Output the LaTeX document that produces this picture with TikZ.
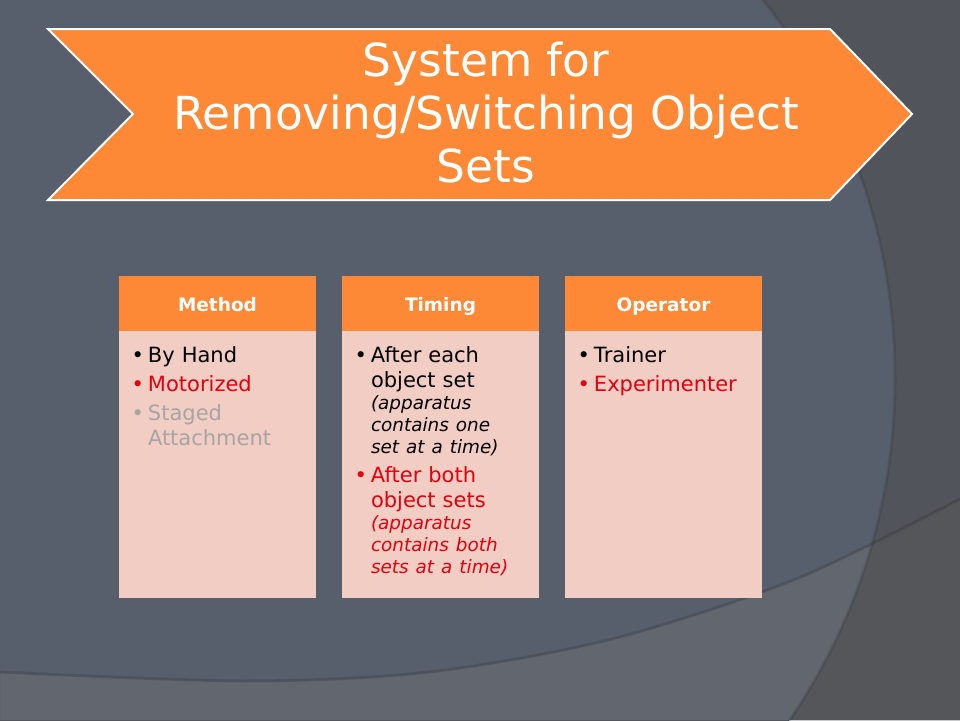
\documentclass[tikz,border=0pt]{standalone}
\usepackage{fontspec}
\setmainfont{DejaVu Sans}
\usetikzlibrary{matrix}

\definecolor{slate}{RGB}{88,95,108}
\definecolor{slatedark}{RGB}{81,84,91}
\definecolor{slatelight}{RGB}{98,102,110}
\definecolor{slatecorner}{RGB}{84,86,90}
\definecolor{banner}{RGB}{253,137,54}
\definecolor{cardbody}{RGB}{241,205,196}
\definecolor{hilite}{RGB}{228,0,12}
\definecolor{faded}{RGB}{168,164,164}

% one bullet line, coloured
\newcommand\bul[2]{\leftskip=15pt\relax\noindent{\color{#1}\llap{\textbullet\hspace{4pt}}#2\par}}
\newcommand\nextbul{\vspace{4pt}}
\newcommand\aside[1]{\par{\itshape\fontsize{18.4}{22}\selectfont #1\par}}

\tikzset{
  card matrix/.style={
    matrix of nodes,
    column sep=26pt, row sep=0pt,
    nodes={
      rectangle,
      minimum width=#1,
      anchor=center,
    },
    row 1/.style={nodes={fill=banner, text=white, inner sep=0pt,
      minimum height=55pt, text height=17pt, text depth=2pt,
      font=\bfseries\fontsize{18.5}{22}\selectfont}},
    row 2/.style={nodes={fill=cardbody, inner xsep=14pt, inner ysep=0pt,
      text width=169pt, text height=31pt, text depth=236pt,
      font=\fontsize{21}{25}\selectfont}},
  },
  card matrix/.default=197pt
}

\begin{document}
\begin{tikzpicture}[x=1pt,y=-1pt]
\useasboundingbox (0,0) rectangle (960,720);
\clip (0,0) rectangle (960,720);

% background
\fill[slate] (0,0) rectangle (960,720);
\fill[slatedark, even odd rule] (0,0) rectangle (960,720) (288,378) circle [radius=607];
\fill[slatelight] plot[smooth] coordinates {(0,673) (245,682) (429,673) (612,640) (796,580) (960,500)}
  -- (960,720) -- (0,720) -- cycle;
\begin{scope}
  \clip plot[smooth] coordinates {(0,673) (245,682) (429,673) (612,640) (796,580) (960,500)}
    -- (960,720) -- (0,720) -- cycle;
  \fill[slatecorner, even odd rule] (0,0) rectangle (960,720) (288,378) circle [radius=607];
\end{scope}
\draw[black, opacity=0.1, line width=3pt] (288,378) circle [radius=607];
\draw[black, opacity=0.12, line width=3pt] plot[smooth] coordinates {(0,672) (245,681) (429,672) (612,639) (796,579) (960,499)};

% title banner
\fill[banner, draw=white, line width=2pt] (48,29) -- (830,29) -- (912,114) -- (830,200)
  -- (48,200) -- (133,114) -- cycle;
\node (title) [font=\fontsize{45.5}{53}\selectfont, text=white, align=center] at (486,113)
  {System for\\Removing/Switching Object\\Sets};

\matrix (cards) [card matrix] at (440.5,437)
{
  Method & Timing & Operator \\
  \bul{black}{By Hand}
  \nextbul\bul{hilite}{Motorized}
  \nextbul\bul{faded}{Staged\newline Attachment}
  &
  \bul{black}{After each\newline object set\aside{(apparatus\newline contains one\newline set at a time)}}
  \nextbul\bul{hilite}{After both\newline object sets\aside{(apparatus\newline contains both\newline sets at a time)}}
  &
  \bul{black}{Trainer}
  \nextbul\bul{hilite}{Experimenter}
  \\
};
\end{tikzpicture}
\end{document}
